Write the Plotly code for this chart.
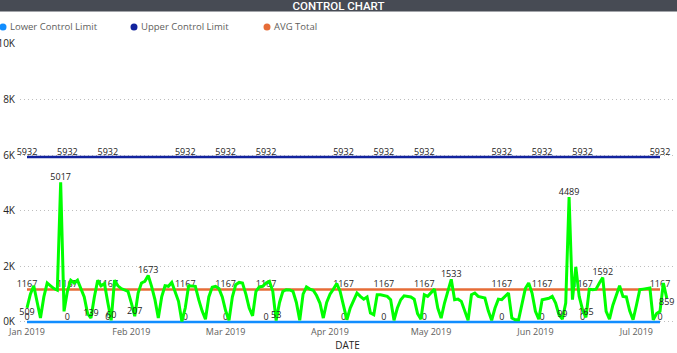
import pandas as pd
import plotly.graph_objects as go

# ---------------- data ----------------
start_date = "2019-01-01"
total_values = [
    509, 1000, 1300, 700, 140, 900, 1400, 1300, 1200, 1140,
    5017, 380, 1100, 1500, 1400, 1500, 1200, 900, 300, 139,
    900, 1500, 1300, 1380, 700, 60, 1500, 1300, 1200, 1160,
    1100, 680, 207, 1040, 1400, 1460, 1673, 1280, 800, 140,
    900, 1300, 1280, 1420, 1100, 740, 20, 500, 1300, 1300,
    1280, 800, 400, 100, 900, 1250, 1280, 1200, 900, 400,
    60, 900, 1340, 1420, 1400, 1000, 500, 220, 1100, 1260,
    1280, 1400, 1460, 1100, 53, 700, 1100, 1160, 1150, 1100,
    700, 60, 1000, 1260, 1180, 1140, 950, 680, 140, 700,
    1000, 1180, 1380, 1100, 600, 80, 500, 800, 1040, 920,
    820, 900, 320, 260, 980, 980, 950, 920, 800, 60,
    500, 800, 940, 920, 900, 820, 300, 100, 980, 920,
    1040, 1180, 500, 140, 680, 1100, 1533, 800, 820, 740,
    400, 60, 980, 1040, 920, 880, 860, 400, 60, 500,
    820, 800, 920, 1040, 140, 80, 80, 700, 1200, 1400,
    1040, 380, 100, 800, 820, 850, 920, 680, 260, 99,
    680, 4489, 800, 1980, 920, 440, 165, 1180, 1160, 1180,
    1400, 1592, 380, 100, 600, 950, 1300, 920, 900, 400,
    80, 600, 1160, 1180, 1200, 1220, 80, 300, 380, 1400,
    859,
]
total_label_idx = [0, 10, 19, 25, 32, 36, 74, 126, 159, 161, 166, 171, 190]

limit_days = 189
ucl_value = 5932
avg_value = 1167
lcl_value = 0
limit_label_idx = [0, 12, 24, 47, 59, 71, 94, 106, 118, 141, 153, 165, 188]

y_tickvals = [0, 2000, 4000, 6000, 8000, 10000]
y_ticktext = ["0K", "2K", "4K", "6K", "8K", "10K"]

series_names = ["Lower Control Limit", "Upper Control Limit", "AVG Total"]
series_colors = ["#118DFF", "#12239E", "#E66C37"]
green = "#00FF00"

# ---------------- build ----------------
W, H = 677, 353
ML, MR, MT, MB = 20, 2, 43, 28
PW, PH = W - ML - MR, H - MT - MB

dates = pd.date_range(start_date, periods=len(total_values), freq="D")
ldates = dates[:limit_days]


def labels(values, idx):
    return [str(v) if i in idx else "" for i, v in enumerate(values)]


lcl = [lcl_value] * limit_days
ucl = [ucl_value] * limit_days
avg = [avg_value] * limit_days

lab_font = dict(family="Open Sans", size=9, color="#252423")

fig = go.Figure()
for vals, name, col in zip([lcl, ucl, avg], series_names, series_colors):
    fig.add_trace(go.Scatter(
        x=ldates, y=vals, name=name, mode="lines+text",
        line=dict(color=col, width=2.5),
        text=labels(vals, limit_label_idx), textposition="top center",
        textfont=lab_font, cliponaxis=False, showlegend=False,
        hoverinfo="skip",
    ))

tpos = ["bottom center" if i in (0, len(total_values) - 1) else "top center"
        for i in range(len(total_values))]
fig.add_trace(go.Scatter(
    x=dates, y=total_values, name="Total", mode="lines+text",
    line=dict(color=green, width=3),
    text=labels(total_values, total_label_idx), textposition=tpos,
    textfont=lab_font, cliponaxis=False, showlegend=False,
))

x0 = pd.Timestamp(start_date)
px_per_day = 3.367
xr = [x0 - pd.Timedelta(days=7 / px_per_day), x0 + pd.Timedelta(days=648 / px_per_day)]


def py2paper(py):
    return (H - MB - py) / PH


def px2paper(px):
    return (px - ML) / PW


shapes = [dict(type="rect", xref="paper", yref="paper",
               x0=px2paper(0), x1=px2paper(W), y0=py2paper(11.5), y1=py2paper(-2),
               fillcolor="#474B54", line=dict(width=0), layer="above")]
annotations = []
legend_px = [3, 134, 267]
for lx, name, col in zip(legend_px, series_names, series_colors):
    shapes.append(dict(type="circle", xref="paper", yref="paper",
                       xsizemode="pixel", ysizemode="pixel",
                       xanchor=px2paper(lx), yanchor=py2paper(27),
                       x0=-3.5, x1=3.5, y0=-3.5, y1=3.5,
                       fillcolor=col, line=dict(width=0)))
    annotations.append(dict(text=name, xref="paper", yref="paper",
                            x=px2paper(lx + 5), y=py2paper(27),
                            xanchor="left", yanchor="middle", showarrow=False,
                            font=dict(family="Open Sans", size=9.5, color="#605E5C")))

fig.update_layout(
    width=W, height=H,
    margin=dict(l=ML, r=MR, t=MT, b=MB, autoexpand=False),
    paper_bgcolor="white", plot_bgcolor="white",
    title=dict(text="CONTROL CHART", x=0.5, xref="container", xanchor="center",
               y=1 - 6.3 / H, yref="container", yanchor="middle",
               font=dict(family="Roboto", size=11.5, color="white", weight=500)),
    shapes=shapes, annotations=annotations,
    showlegend=False,
    xaxis=dict(range=xr, type="date", tick0=start_date, dtick="M1",
               tickformat="%b %Y", showgrid=False, zeroline=False, showline=False,
               ticks="", automargin=False,
               tickfont=dict(family="Open Sans", size=9, color="#605E5C"),
               title=dict(text="DATE", standoff=4,
                          font=dict(family="Open Sans", size=10, color="#252423"))),
    yaxis=dict(range=[-110, 10030], tickvals=y_tickvals, ticktext=y_ticktext,
               showgrid=True, gridcolor="#BEBEBE", griddash="1px,3px", gridwidth=1,
               zeroline=False, showline=False, ticks="", automargin=False,
               ticklabelstandoff=4,
               tickfont=dict(family="Open Sans", size=10, color="#252423")),
)

fig.write_html("out.html")
